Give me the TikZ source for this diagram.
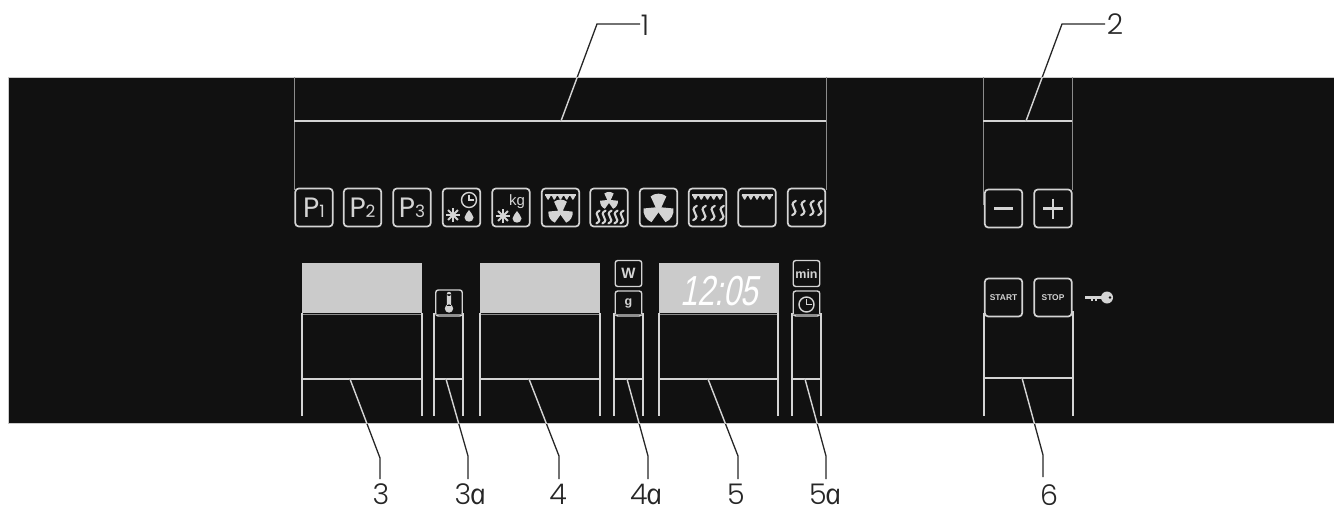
\documentclass[tikz,border=0pt]{standalone}
\usepackage{fontspec}
\setmainfont{Poppins Light}
\newfontfamily\labf{Liberation Sans}
\newfontfamily\pfont{Poppins}
\newfontfamily\afont{Open Sans}[ItalicFeatures={FakeSlant=-0.2}]
\definecolor{panelc}{HTML}{111111}
\definecolor{linec}{HTML}{D4D4D4}
\definecolor{dimc}{HTML}{8C8C8C}
\definecolor{dispc}{HTML}{CBCBCB}
\tikzset{
  panel/.style={draw=dispc,line width=1pt,fill=panelc},
  iconbox/.style={draw=linec,line width=1.7pt,rounded corners=3.5pt,inner sep=0pt,text=linec,
    minimum width=37.5pt,minimum height=38pt,font=\labf},
  smallbox/.style={draw=linec,line width=1.4pt,rounded corners=2.5pt,inner sep=0pt,text=linec,
    minimum width=26.5pt,minimum height=26pt,font=\labf\bfseries},
  display/.style={fill=dispc,inner sep=0pt,minimum width=120pt,minimum height=50pt},
  brline/.style={draw=linec,line width=1.5pt},
  topline/.style={draw=dimc,line width=1pt},
  number/.style={inner sep=0pt,font=\fontsize{28.5}{30}\selectfont,text=black!85},
}
\newcommand{\icofan}[3]{\begin{scope}[shift={(#1,#2)},scale=#3]
  \fill[linec] (0,0) circle (3);
  \foreach \r in {0,120,240}{\fill[linec,rotate=\r] (-2.5,-1) -- (-7.5,-12) .. controls (-3.5,-15.5) and (3.5,-15.5) .. (7.5,-12) -- (2.5,-1) -- cycle;}
\end{scope}}
\newcommand{\icotop}[2]{\begin{scope}[shift={(#1,#2)}]
  \draw[linec,line width=2pt] (-15.5,0) -- (15.5,0);
  \foreach \x in {-12.4,-6.2,0,6.2,12.4}{\fill[linec] (\x-3,0) -- (\x+3,0) -- (\x+.5,4.6) -- (\x-.5,4.6) -- cycle;}
\end{scope}}
\newcommand{\icosq}[3]{\begin{scope}[shift={(#1,#2)},scale=#3]
  \draw[linec,line width=2.1pt,line cap=round] (2,-8) .. controls (-3,-6) and (-2,-2) .. (0,0) .. controls (2,2) and (3,6) .. (-2,8);
\end{scope}}
\newcommand{\icostar}[2]{\begin{scope}[shift={(#1,#2)}]
  \foreach \r in {0,45,90,135}{\draw[linec,line width=2pt,rotate=\r] (-7,0) -- (7,0);}
\end{scope}}
\newcommand{\icodrop}[2]{\begin{scope}[shift={(#1,#2)}]
  \fill[linec] (0,-7) .. controls (1,-4) and (4.5,-3) .. (4.5,0.5) .. controls (4.5,6) and (-4.5,6) .. (-4.5,0.5) .. controls (-4.5,-3) and (-1,-4) .. (0,-7);
\end{scope}}
\newcommand{\icoclock}[3]{\begin{scope}[shift={(#1,#2)}]
  \draw[linec,line width=1.4pt] (0,0) circle (#3);
  \draw[linec,line width=1.4pt] (0,-#3*.7) -- (0,0) -- (#3*.7,0);
\end{scope}}
\newcommand{\brk}[2]{%
  \draw[topline] (#1,314.5) -- (#2,314.5);
  \draw[brline] (#1,313) -- (#1,416) (#2,313) -- (#2,416) (#1,379) -- (#2,379);}
\newcommand{\leaderline}[3]{%
  \draw[black!85,line width=1.3pt] #1 -- #2 -- #3;
  \begin{scope}\clip (8,77) rectangle (1334,423);
    \draw[linec,line width=1.4pt] #1 -- #2 -- #3;
  \end{scope}}
\newcommand{\ptext}[1]{\pfont\fontsize{28}{30}\selectfont P\fontsize{17}{17}\selectfont #1}
\begin{document}
\begin{tikzpicture}[x=1pt,y=-1pt]
\useasboundingbox (0,0) rectangle (1334,507);
\node[panel,inner sep=0pt,minimum width=1328pt,minimum height=346pt,anchor=north west] (body) at (7.5,76.5) {};
% upper brackets
\draw[draw=dimc,line width=1pt] (294,77) -- (294,190) (826,77) -- (826,190) (983,77) -- (983,205) (1072,77) -- (1072,190);
\draw[brline] (294,121) -- (826,121) (983,121) -- (1072,121);
% icon row
\node[iconbox] (p1) at (314,207.5) {\ptext{1}};
\node[iconbox] (p2) at (362.5,207.5) {\ptext{2}};
\node[iconbox] (p3) at (412,207.5) {\ptext{3}};
\node[iconbox] (ia) at (461.5,207.5) {};
\node[iconbox] (ib) at (511,207.5) {};
\node[iconbox] (ic) at (560.5,207.5) {};
\node[iconbox] (id) at (609,207.5) {};
\node[iconbox] (ie) at (658.5,207.5) {};
\node[iconbox] (if) at (707.5,207.5) {};
\node[iconbox] (ig) at (757,207.5) {};
\node[iconbox] (ih) at (806.5,207.5) {};
\icoclock{469}{200}{7.5}\icostar{453}{215}\icodrop{469}{217}
\node[inner sep=0pt,text=linec,font=\labf\fontsize{15}{15}\selectfont] (kg) at (517,201.5) {kg};
\icostar{503}{216}\icodrop{517}{218}
\icotop{560.5}{195}\icofan{560.5}{212}{.85}
\icofan{609}{201}{.62}
\foreach \x in {598,604,610,616,622}{\icosq{\x}{217}{.8}}
\icofan{658.5}{209}{1.05}
\icotop{707.5}{195}
\foreach \x in {695,704,713,722}{\icosq{\x}{213}{.9}}
\icotop{757}{195}
\foreach \x in {794,803,812,820}{\icosq{\x}{208}{.9}}
% minus plus
\node[iconbox] (minus) at (1003.5,208.5) {};
\node[iconbox] (plus) at (1053,208.5) {};
\draw[linec,line width=2.8pt] (994,208.5) -- (1013,208.5);
\draw[linec,line width=2.8pt] (1043,208.5) -- (1063,208.5) (1053,198.5) -- (1053,218.5);
% start stop
\node[iconbox,font=\labf\bfseries\fontsize{8.4}{8.4}\selectfont] (start) at (1003.5,297.5) {START};
\node[iconbox,font=\labf\bfseries\fontsize{8.4}{8.4}\selectfont] (stop) at (1053,297.5) {STOP};
% key
\draw[linec,line width=2.6pt] (1085,297.5) -- (1102,297.5);
\draw[linec,line width=1.4pt] (1092,297.5) -- (1092,300.5) (1096,297.5) -- (1096,300.5);
\fill[linec] (1107,297.5) circle (6);
\fill[panelc] (1110,297.5) circle (1.4);
% displays
\node[display,anchor=north west] (d3) at (302,263) {};
\node[display,anchor=north west] (d4) at (480,263) {};
\node[display,anchor=north west] (d5) at (659,263) {};
\node[inner sep=0pt,text=white,xslant=.2,xscale=.74,font=\labf\fontsize{42}{42}\selectfont] (clock) at (722,291.5) {12:05};
% small boxes
\node[smallbox] (th) at (449,303) {};
\fill[linec] (446.8,294) rectangle (451.2,306) (449,294) circle (2.2) (449,308.5) circle (4.2);
\node[smallbox,font=\labf\bfseries\fontsize{15}{15}\selectfont] (w) at (628.5,273.5) {W};
\node[smallbox,font=\labf\bfseries\fontsize{12.5}{12.5}\selectfont,minimum height=25pt] (g) at (628.5,303.5) {g};
\node[smallbox,font=\labf\bfseries\fontsize{12.5}{12.5}\selectfont] (mn) at (806.5,273.5) {min};
\node[smallbox,minimum height=25pt] (ck) at (806.5,303.5) {};
\icoclock{806.5}{304.5}{7.5}
% lower brackets
\brk{302}{422}\brk{434}{463}\brk{480}{600}\brk{614}{643}\brk{659}{778}\brk{792}{821}
\draw[brline] (984,313) -- (984,416) (1073,311) -- (1073,416) (984,378) -- (1073,378);
% numbers
\node[number] (n1) at (645,25) {1};
\node[number] (n2) at (1115,24.5) {2};
\node[number] (n3) at (381,494.5) {3};
\node[number] (n3a) at (471,494.5) {3{\afont\itshape a}};
\node[number] (n4) at (558,494.5) {4};
\node[number] (n4a) at (647,494.5) {4{\afont\itshape a}};
\node[number] (n5) at (736,494.5) {5};
\node[number] (n5a) at (826,494.5) {5{\afont\itshape a}};
\node[number] (n6) at (1049,495) {6};
% leaders
\coordinate (a1) at (561,121); \coordinate (b1) at (597,24); \coordinate (c1) at (640,24);
\coordinate (a2) at (1026,121); \coordinate (b2) at (1062,24); \coordinate (c2) at (1105,24);
\coordinate (a3) at (350,379); \coordinate (b3) at (380,458); \coordinate (c3) at (380,479);
\coordinate (a3x) at (446,379); \coordinate (b3x) at (468,456); \coordinate (c3x) at (468,479);
\coordinate (a4) at (529,379); \coordinate (b4) at (559,456); \coordinate (c4) at (559,479);
\coordinate (a4x) at (627,379); \coordinate (b4x) at (648,456); \coordinate (c4x) at (648,479);
\coordinate (a5) at (708,379); \coordinate (b5) at (738,456); \coordinate (c5) at (738,479);
\coordinate (a5x) at (805,379); \coordinate (b5x) at (826,456); \coordinate (c5x) at (826,479);
\coordinate (a6) at (1022,378); \coordinate (b6) at (1043,455); \coordinate (c6) at (1043,477);
\leaderline{(a1)}{(b1)}{(c1)}
\leaderline{(a2)}{(b2)}{(c2)}
\leaderline{(a3)}{(b3)}{(c3)}
\leaderline{(a3x)}{(b3x)}{(c3x)}
\leaderline{(a4)}{(b4)}{(c4)}
\leaderline{(a4x)}{(b4x)}{(c4x)}
\leaderline{(a5)}{(b5)}{(c5)}
\leaderline{(a5x)}{(b5x)}{(c5x)}
\leaderline{(a6)}{(b6)}{(c6)}
\end{tikzpicture}
\end{document}
